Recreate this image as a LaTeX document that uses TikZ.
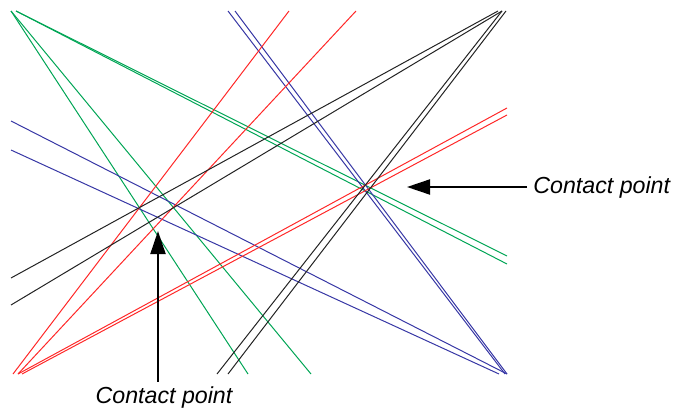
\documentclass[tikz,border=0pt]{standalone}
\usepackage{fontspec}
\setmainfont{Liberation Sans}
\usetikzlibrary{arrows.meta}
\definecolor{rayred}{RGB}{255,40,40}
\definecolor{raygreen}{RGB}{0,165,85}
\definecolor{rayblue}{RGB}{55,55,165}
\definecolor{rayblack}{RGB}{35,35,35}
\begin{document}
\begin{tikzpicture}[x=0.5pt, y=-0.5pt, >={Triangle[length=11.5pt,width=7.5pt]},
  every node/.style={font=\fontsize{11.6}{14}\selectfont\itshape, inner sep=0pt},
  ray/.style={line width=0.5pt},
  pointer/.style={->, line width=1pt}]
  \useasboundingbox (0,0) rectangle (676,412);
  % green family
  \draw[ray, raygreen] (11,11) -- (248,374);
  \draw[ray, raygreen] (11,11) -- (311,374);
  \draw[ray, raygreen] (16,11) -- (507,256);
  \draw[ray, raygreen] (16,11) -- (507,264);
  % blue family
  \draw[ray, rayblue] (228,11) -- (505,374);
  \draw[ray, rayblue] (235,11) -- (507,374);
  \draw[ray, rayblue] (11,121) -- (507,374);
  \draw[ray, rayblue] (11,150) -- (499,374);
  % red family
  \draw[ray, rayred] (289,11) -- (13,374);
  \draw[ray, rayred] (356,11) -- (18,374);
  \draw[ray, rayred] (507,108) -- (18,374);
  \draw[ray, rayred] (507,115) -- (22,374);
  % black family
  \draw[ray, rayblack] (498,11) -- (11,278);
  \draw[ray, rayblack] (502,11) -- (11,305);
  \draw[ray, rayblack] (502,11) -- (217,374);
  \draw[ray, rayblack] (506,11) -- (228,374);
  % labels
  \coordinate (righttip) at (407,187);
  \coordinate (lowtip) at (158,231);
  \node[anchor=base west] (rightlabel) at (533,193) {Contact point};
  \node[anchor=base] (lowlabel) at (164,403) {Contact point};
  \draw[pointer] (rightlabel.west |- righttip) ++(-6,0) -- (righttip);
  \draw[pointer] (lowlabel.north -| lowtip) ++(0,-4) -- (lowtip);
\end{tikzpicture}
\end{document}
